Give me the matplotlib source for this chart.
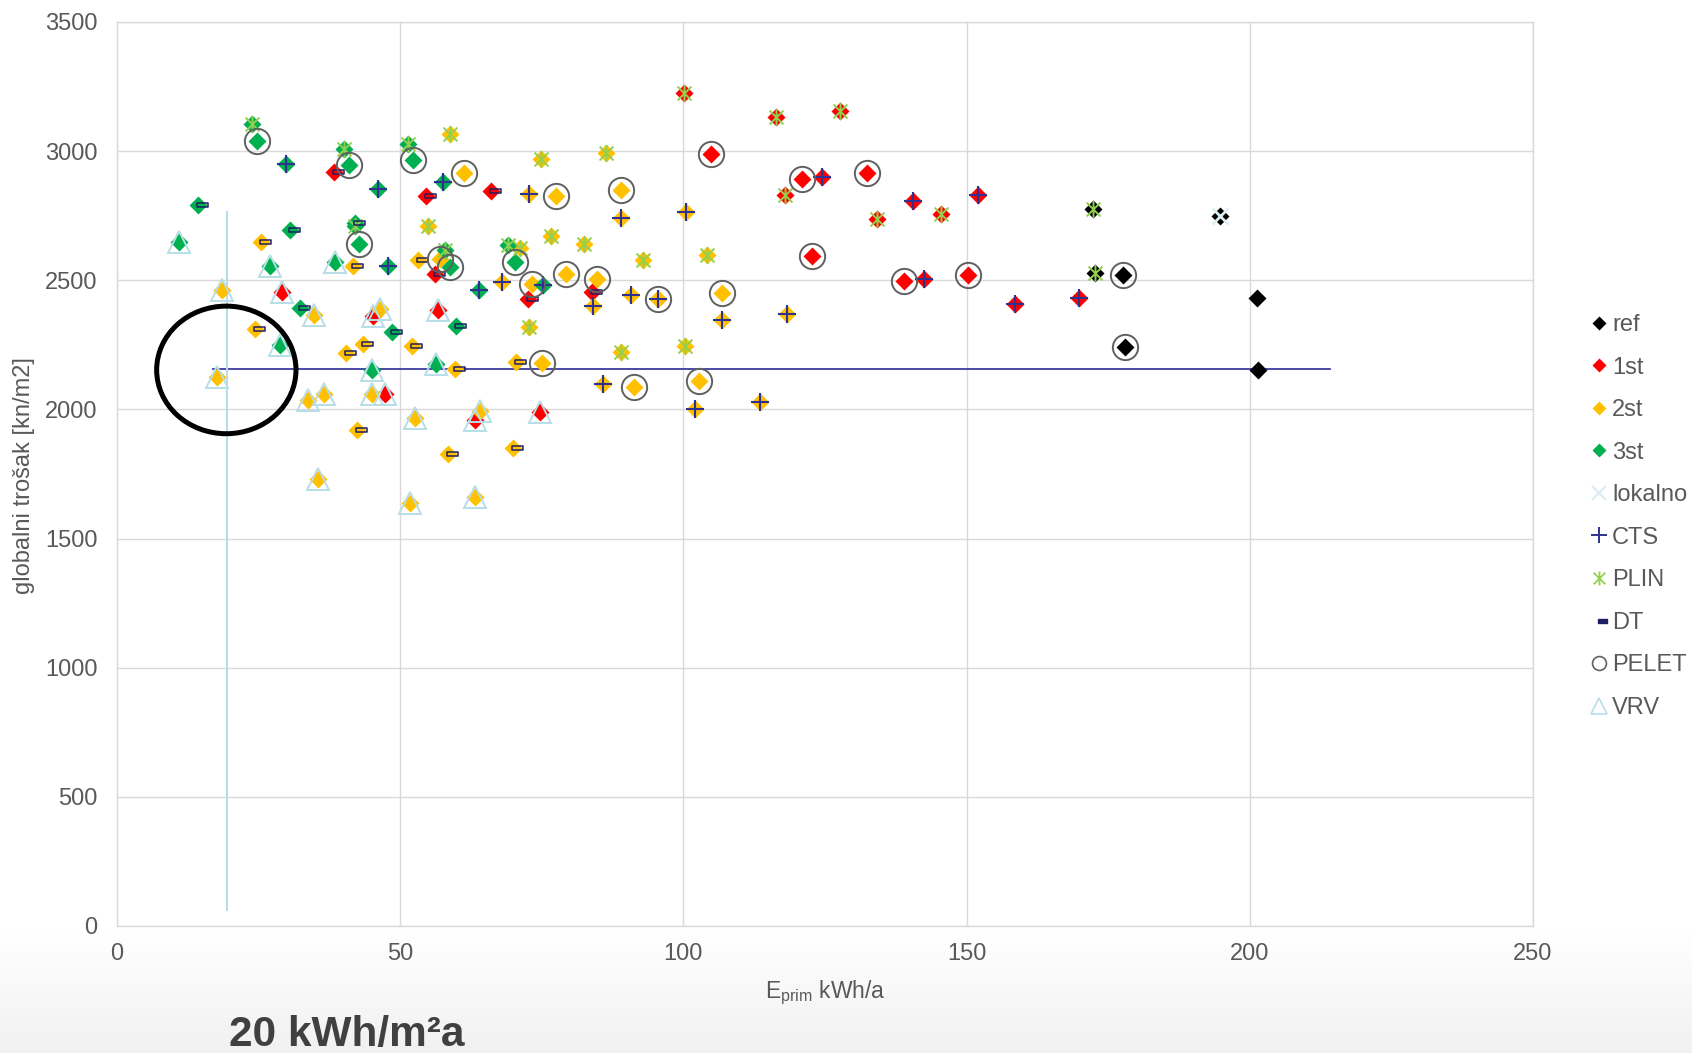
import numpy as np
import matplotlib
matplotlib.use("Agg")
import matplotlib.pyplot as plt
from matplotlib.path import Path
from matplotlib.lines import Line2D
from matplotlib.patches import Ellipse

plt.rcParams['font.family'] = ['Liberation Sans', 'DejaVu Sans']
plt.rcParams['mathtext.fontset'] = 'custom'
plt.rcParams['mathtext.rm'] = 'Liberation Sans'
plt.rcParams['mathtext.it'] = 'Liberation Sans:italic'

# ---------------- data ----------------
# ref (black)
ref_x = [172.4, 194.8, 172.7, 177.7, 178.0, 201.3, 201.5]
ref_y = [2775, 2749, 2528, 2522, 2242, 2432, 2152]
ref_sys = ['PLIN', 'lokalno', 'PLIN', 'PELET', 'PELET', '', '']

# 1st (red)
st1_x = [38.3, 54.6, 66.1, 29.1, 45.2, 56.7, 47.3, 63.2, 74.6, 56.1, 72.5, 83.9,
         100.1, 116.3, 127.6, 104.8, 120.9, 124.4, 132.4, 118.0, 140.6, 145.5,
         134.2, 122.7, 138.9, 142.4, 150.3, 152.1, 158.6, 169.9]
st1_y = [2919, 2825, 2846, 2455, 2360, 2384, 2061, 1958, 1990, 2526, 2429, 2455,
         3226, 3132, 3155, 2988, 2893, 2900, 2917, 2829, 2806, 2758,
         2738, 2593, 2497, 2504, 2522, 2829, 2409, 2432]
st1_sys = ['DT', 'DT', 'DT', 'VRV', 'VRV', 'VRV', 'VRV', 'VRV', 'VRV', 'DT', 'DT', 'DT',
           'PLIN', 'PLIN', 'PLIN', 'PELET', 'PELET', 'CTS', 'PELET', 'PLIN', 'CTS', 'PLIN',
           'PLIN', 'PELET', 'PELET', 'CTS', 'PELET', 'CTS', 'CTS', 'CTS']

# 2st (orange)
st2_x = [58.8, 61.3, 25.4, 41.7, 54.9, 53.2, 67.9, 18.5, 34.8, 24.4, 17.6, 46.4,
         52.0, 59.6, 40.5, 43.4, 33.8, 36.5, 45.1, 52.6, 64.1, 42.3, 58.5, 69.9,
         70.5, 35.5, 51.7, 63.2, 57.0, 74.9, 86.4, 72.8, 77.5, 88.9, 100.4, 88.9,
         76.7, 82.4, 92.9, 104.2, 71.1, 73.3, 79.2, 84.8, 90.7, 84.1, 95.5, 95.5,
         106.8, 106.8, 118.3, 72.8, 88.9, 100.3, 75.0, 85.8, 91.3, 102.7, 102.0, 113.5]
st2_y = [3065, 2917, 2648, 2554, 2712, 2577, 2493, 2461, 2365, 2313, 2126, 2390,
         2245, 2158, 2220, 2254, 2036, 2061, 2061, 1968, 1995, 1919, 1827, 1849,
         2182, 1732, 1636, 1661, 2584, 2968, 2993, 2835, 2825, 2848, 2764, 2741,
         2672, 2642, 2577, 2597, 2624, 2487, 2524, 2506, 2442, 2399, 2429, 2429,
         2452, 2345, 2368, 2319, 2223, 2246, 2181, 2098, 2087, 2110, 2003, 2027]
st2_sys = ['PLIN', 'PELET', 'DT', 'DT', 'PLIN', 'DT', 'CTS', 'VRV', 'VRV', 'DT', 'VRV', 'VRV',
           'DT', 'DT', 'DT', 'DT', 'VRV', 'VRV', 'VRV', 'VRV', 'VRV', 'DT', 'DT', 'DT',
           'DT', 'VRV', 'VRV', 'VRV', 'PELET', 'PLIN', 'PLIN', 'CTS', 'PELET', 'PELET', 'CTS', 'CTS',
           'PLIN', 'PLIN', 'PLIN', 'PLIN', 'PLIN', 'PELET', 'PELET', 'PELET', 'CTS', 'CTS', 'CTS', 'PELET',
           'PELET', 'CTS', 'CTS', 'PLIN', 'PLIN', 'PLIN', 'PELET', 'CTS', 'PELET', 'PELET', 'CTS', 'CTS']

# 3st (green)
st3_x = [23.8, 24.8, 29.8, 40.1, 41.0, 46.0, 51.4, 52.3, 57.5, 14.3, 10.9, 30.6,
         42.0, 42.0, 42.7, 38.5, 47.8, 57.9, 58.8, 63.9, 70.2, 69.0, 75.3, 27.1,
         32.3, 28.8, 48.5, 45.1, 59.9, 56.4]
st3_y = [3106, 3039, 2949, 3009, 2945, 2855, 3029, 2967, 2880, 2790, 2648, 2696,
         2712, 2722, 2642, 2571, 2554, 2616, 2551, 2461, 2572, 2635, 2482, 2554,
         2393, 2248, 2300, 2154, 2322, 2177]
st3_sys = ['PLIN', 'PELET', 'CTS', 'PLIN', 'PELET', 'CTS', 'PLIN', 'PELET', 'CTS', 'DT', 'VRV', 'DT',
           'PLIN', 'DT', 'PELET', 'VRV', 'CTS', 'PLIN', 'PELET', 'CTS', 'PELET', 'PLIN', 'CTS', 'VRV',
           'DT', 'VRV', 'DT', 'VRV', 'DT', 'VRV']

# reference lines (20 kWh/m2a target)
hline_y = 2155
hline_x = [16.9, 214.2]
vline_x = 19.4
vline_y = [63, 2764]
ellipse_center = (19.3, 2153)
ellipse_size = (24.6, 494)

stage_names = ['ref', '1st', '2st', '3st']
system_names = ['lokalno', 'CTS', 'PLIN', 'DT', 'PELET', 'VRV']
x_ticks = [0, 50, 100, 150, 200, 250]
y_ticks = [0, 500, 1000, 1500, 2000, 2500, 3000, 3500]

# ---------------- styles ----------------
stage_colors = {'ref': '#000000', '1st': '#FF0000', '2st': '#FFC000', '3st': '#00B050'}
GRID = '#D9D9D9'
TXT = '#595959'
NAVY = '#2E3192'

star_path = Path([(-1, -1), (1, 1), (-1, 1), (1, -1), (0, -1.2), (0, 1.2)],
                 [Path.MOVETO, Path.LINETO, Path.MOVETO, Path.LINETO, Path.MOVETO, Path.LINETO])
dash_path = Path([(-1, -2.4), (10, -2.4), (10, 2.4), (-1, 2.4), (-1, -2.4)],
                 [Path.MOVETO, Path.LINETO, Path.LINETO, Path.LINETO, Path.CLOSEPOLY])

sys_style = {
    'lokalno': dict(marker='x', ms=12, mec='#DAEEF3', mfc='none', mew=2.0),
    'CTS': dict(marker='+', ms=13, mec=NAVY, mfc='none', mew=1.5),
    'PLIN': dict(marker=star_path, ms=12, mec='#92D050', mfc='none', mew=1.4),
    'DT': dict(marker=dash_path, ms=14.4, mec='#1F1F66', mfc='none', mew=1.1),
    'PELET': dict(marker='o', ms=18.2, mec='#606060', mfc='none', mew=1.4),
    'VRV': dict(marker='^', ms=16, mec='#B7DEE8', mfc='none', mew=1.4),
}
leg_style = {
    'lokalno': dict(marker='x', ms=10, mec='#DAEEF3', mfc='none', mew=1.6),
    'CTS': dict(marker='+', ms=11, mec=NAVY, mfc='none', mew=1.4),
    'PLIN': dict(marker=star_path, ms=10, mec='#92D050', mfc='none', mew=1.3),
    'DT': dict(marker=dash_path, ms=11.5, mec='#1F1F66', mfc='#1F1F66', mew=1.0),
    'PELET': dict(marker='o', ms=10, mec='#606060', mfc='none', mew=1.2),
    'VRV': dict(marker='^', ms=11, mec='#B7DEE8', mfc='none', mew=1.2),
}

# ---------------- figure ----------------
fig = plt.figure(figsize=(16.92, 10.53), dpi=100)

# subtle grey gradient at the bottom
bg = fig.add_axes([0, 0, 1, 0.115], zorder=-10)
grad = np.linspace(0, 1, 100).reshape(-1, 1)
bg.imshow(grad, aspect='auto', cmap=matplotlib.colors.LinearSegmentedColormap.from_list(
    'g', ['#F1F1F1', '#FFFFFF']), origin='lower', extent=[0, 1, 0, 1])
bg.axis('off')

ax = fig.add_axes([117 / 1692, 1 - 926 / 1053, (1533 - 117) / 1692, (926 - 22) / 1053])
ax.set_xlim(0, 250)
ax.set_ylim(0, 3500)
ax.set_xticks(x_ticks)
ax.set_yticks(y_ticks)
ax.grid(True, color=GRID, lw=1.0)
ax.set_axisbelow(True)
for s in ax.spines.values():
    s.set_color(GRID)
    s.set_linewidth(1.0)
ax.tick_params(length=0, labelsize=17, labelcolor=TXT)
ax.tick_params(axis='y', pad=14)
ax.tick_params(axis='x', pad=12)

# reference lines
ax.plot(hline_x, [hline_y, hline_y], color='#3C3CA0', lw=1.3, zorder=2)
ax.plot([vline_x, vline_x], vline_y, color='#B7DEE8', lw=1.5, zorder=2)

stage_data = {
    'ref': (ref_x, ref_y, ref_sys),
    '1st': (st1_x, st1_y, st1_sys),
    '2st': (st2_x, st2_y, st2_sys),
    '3st': (st3_x, st3_y, st3_sys),
}

for st in stage_names:
    xs, ys, _ = stage_data[st]
    ax.plot(xs, ys, ls='none', marker='D', ms=8.9, mfc=stage_colors[st], mec='none',
            zorder=3, clip_on=False)

for sysn in system_names:
    px, py = [], []
    for st in stage_names:
        xs, ys, ss = stage_data[st]
        for xv, yv, sv in zip(xs, ys, ss):
            if sv == sysn:
                px.append(xv)
                py.append(yv)
    ax.plot(px, py, ls='none', zorder=4, clip_on=False, **sys_style[sysn])

ell = Ellipse(ellipse_center, ellipse_size[0], ellipse_size[1], fill=False,
              edgecolor='black', lw=3.6, zorder=5)
ax.add_patch(ell)

# axis titles
fig.text(825 / 1692, 1 - 998 / 1053, r'E$_{\mathrm{prim}}$ kWh/a', ha='center', va='baseline',
         fontsize=16.5, color=TXT)
fig.text(24 / 1692, 1 - 476 / 1053, 'globalni trošak [kn/m2]', rotation=90, ha='center',
         va='center', fontsize=17, color=TXT)

# legend
handles = []
for st in stage_names:
    handles.append(Line2D([], [], ls='none', marker='D', ms=7.1, mfc=stage_colors[st], mec='none'))
for sysn in system_names:
    handles.append(Line2D([], [], ls='none', **leg_style[sysn]))
leg = fig.legend(handles, stage_names + system_names, loc='upper left',
                 bbox_to_anchor=(1592 / 1692, 1 - 314 / 1053), frameon=False,
                 fontsize=17, handlelength=0.6, handletextpad=0.25, labelspacing=0.87,
                 borderpad=0, borderaxespad=0)
for t in leg.get_texts():
    t.set_color(TXT)

# bottom annotation
fig.text(229 / 1692, 7 / 1053, '20 kWh/m²a', fontsize=30.5, fontweight='bold',
         color='#404040', ha='left', va='baseline')

fig.savefig('out.png', dpi=100)
